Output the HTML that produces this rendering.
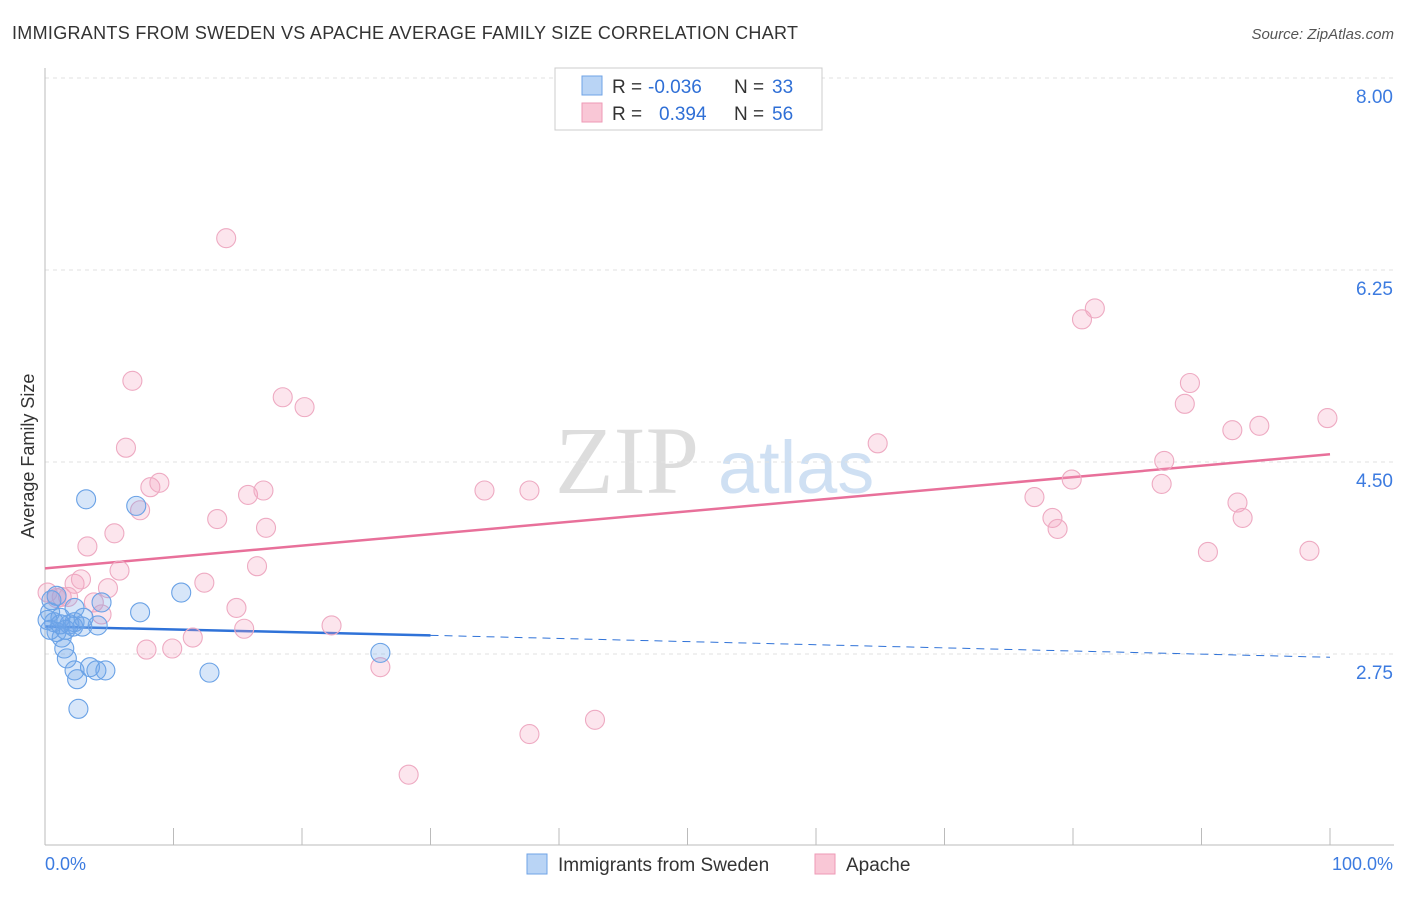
<!DOCTYPE html>
<html><head><meta charset="utf-8"><style>
body{margin:0;background:#fff;font-family:"Liberation Sans",sans-serif;}
</style></head><body>
<svg width="1406" height="892" id="c" xmlns="http://www.w3.org/2000/svg" style="font-family:'Liberation Sans',sans-serif">
<text x="12" y="39" font-size="18" fill="#333" textLength="786">IMMIGRANTS FROM SWEDEN VS APACHE AVERAGE FAMILY SIZE CORRELATION CHART</text>
<text x="1394" y="39" font-size="15" fill="#555" font-style="italic" text-anchor="end">Source: ZipAtlas.com</text>
<text x="34" y="456" font-size="18" fill="#333" text-anchor="middle" transform="rotate(-90 34 456)">Average Family Size</text>
<text x="555" y="493" font-size="96" fill="#ddd" font-family="Liberation Serif">ZIP</text>
<text x="718" y="493" font-size="74" fill="#cfe0f3">atlas</text>
<g id="grid"></g><g id="axes"></g><g id="trend"></g><g id="pts"></g>
<g>
<rect x="555" y="68" width="267" height="62" fill="#fff" stroke="#ccc"/>
<rect x="582" y="76" width="20" height="19" fill="#b9d4f5" stroke="#6fa3e6"/>
<rect x="582" y="103" width="20" height="19" fill="#f9c7d6" stroke="#ee9ab6"/>
<text x="612" y="93" font-size="19" fill="#333">R = <tspan fill="#2f6fd6" x="648">-0.036</tspan><tspan x="734">N = </tspan><tspan fill="#2f6fd6" x="772">33</tspan></text>
<text x="612" y="120" font-size="19" fill="#333">R = <tspan fill="#2f6fd6" x="659">0.394</tspan><tspan x="734">N = </tspan><tspan fill="#2f6fd6" x="772">56</tspan></text>
</g>
<g>
<rect x="527" y="854" width="20" height="20" fill="#b9d4f5" stroke="#6fa3e6"/>
<text x="558" y="871" font-size="19" fill="#333">Immigrants from Sweden</text>
<rect x="815" y="854" width="20" height="20" fill="#f9c7d6" stroke="#ee9ab6"/>
<text x="846" y="871" font-size="19" fill="#333">Apache</text>
</g>
<text x="45" y="870" font-size="18" fill="#3c7be0">0.0%</text>
<text x="1393" y="870" font-size="18" fill="#3c7be0" text-anchor="end">100.0%</text>
</svg>
<script>
const yTicks=[8.00,6.25,4.50,2.75];
const yTickLabels=["8.00","6.25","4.50","2.75"];
const blueX=[3.2,7.1,10.6,7.4,4.4,4.1,2.9,1.9,1.3,0.9,0.7,0.4,0.2,1.2,2.2,1.6,2.3,1.5,1.7,2.3,2.5,3.5,4.0,4.7,12.8,2.6,26.1,0.5,0.9,2.3,3.0,0.4,1.2];
const blueY=[4.16,4.10,3.31,3.13,3.22,3.01,3.00,3.02,2.90,2.95,3.04,3.13,3.06,3.08,3.00,2.97,3.04,2.80,2.71,2.60,2.52,2.63,2.60,2.60,2.58,2.25,2.76,3.24,3.28,3.17,3.08,2.97,3.02];
const pinkX=[14.1,6.8,18.5,20.2,6.3,8.2,8.9,7.4,15.8,17.0,13.4,17.2,3.3,5.4,5.8,16.5,12.4,4.9,2.3,2.8,3.8,4.4,1.3,1.8,0.9,0.2,14.9,15.5,11.5,9.9,7.9,22.3,26.1,34.2,37.7,37.7,42.8,28.3,64.8,80.7,81.7,89.1,88.7,92.4,94.5,99.8,87.1,86.9,79.9,77.0,78.4,78.8,92.8,93.2,90.5,98.4];
const pinkY=[6.54,5.24,5.09,5.00,4.63,4.27,4.31,4.06,4.20,4.24,3.98,3.90,3.73,3.85,3.51,3.55,3.40,3.35,3.39,3.43,3.22,3.11,3.27,3.27,3.26,3.31,3.17,2.98,2.90,2.80,2.79,3.01,2.63,4.24,4.24,2.02,2.15,1.65,4.67,5.80,5.90,5.22,5.03,4.79,4.83,4.90,4.51,4.30,4.34,4.18,3.99,3.89,4.13,3.99,3.68,3.69];
const pinkTrend=[3.53,4.57];
const blueTrend=[3.00,2.92,2.72];
const X=v=>45+v*12.85, Y=v=>78+(8-v)*109.71;
const NS="http://www.w3.org/2000/svg";
function mk(t,a,p){const e=document.createElementNS(NS,t);for(const k in a)e.setAttribute(k,a[k]);document.getElementById(p).appendChild(e);return e;}
yTicks.forEach((t,i)=>{
 const l=mk('line',{x1:45,x2:1394,y1:Y(t),y2:Y(t),stroke:'#e2e2e2','stroke-dasharray':'4,4'},'grid');
 
 
 const tx=mk('text',{x:1393,y:Y(t)+25,'font-size':19,fill:'#3c7be0','text-anchor':'end'},'grid');
 tx.textContent=yTickLabels[i];
 
 
});
let a=mk('line',{x1:45,x2:45,y1:68,y2:845,stroke:'#bbb'},'axes');


a=mk('line',{x1:45,x2:1394,y1:845,y2:845,stroke:'#bbb'},'axes');


for(let i=1;i<=10;i++){const t=mk('line',{x1:X(i*10),x2:X(i*10),y1:828,y2:845,stroke:'#bbb'},'axes');
 
 }
function dots(xs,ys,fill,stroke,name){xs.forEach((x,i)=>{const c=mk('circle',{cx:X(x),cy:Y(ys[i]),r:9.5,fill:fill,stroke:stroke,'stroke-width':1.1},'pts');
 
 });}
dots(pinkX,pinkY,'rgba(244,160,190,0.28)','#eeaac2','apache-point');
dots(blueX,blueY,'rgba(110,165,235,0.28)','#6aa2e6','sweden-point');
let t=mk('line',{x1:X(0),y1:Y(pinkTrend[0]),x2:X(100),y2:Y(pinkTrend[1]),stroke:'#e8709a','stroke-width':2.5},'trend');


t=mk('line',{x1:X(0),y1:Y(blueTrend[0]),x2:X(30),y2:Y(blueTrend[1]),stroke:'#2f72d8','stroke-width':2.5},'trend');


t=mk('line',{x1:X(30),y1:Y(blueTrend[1]),x2:X(100),y2:Y(blueTrend[2]),stroke:'#2f72d8','stroke-width':1,'stroke-dasharray':'8,6'},'trend');


</script>
</body></html>
